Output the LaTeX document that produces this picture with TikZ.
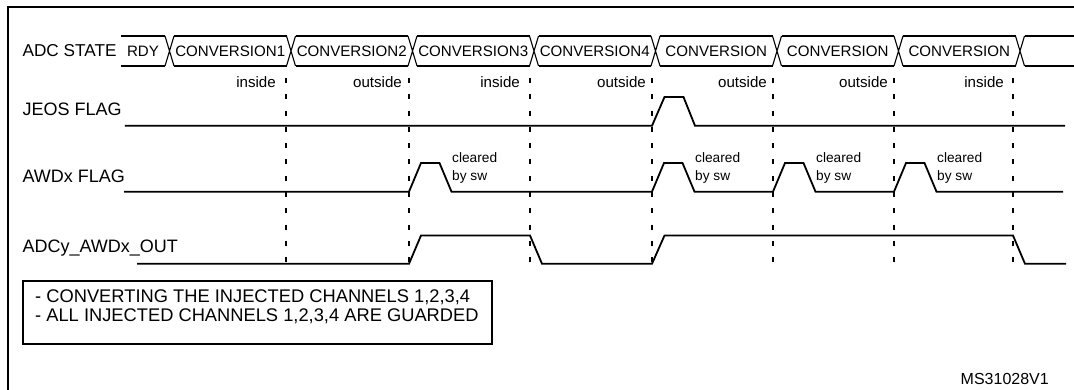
\documentclass[tikz,border=0pt]{standalone}
\usepackage{fontspec}
\setmainfont{Liberation Sans}
\begin{document}
\begin{tikzpicture}[x=1pt,y=-1pt,
    sig/.style={line width=1.8pt},
    bus/.style={line width=1.1pt},
    grid/.style={line width=2.4pt,dash pattern=on 5pt off 11.3pt},
    signame/.style={anchor=base west,inner sep=0,font=\fontsize{18}{20}\selectfont},
    state/.style={anchor=base,inner sep=0,font=\fontsize{15.1}{17}\selectfont},
    zone/.style={anchor=base east,inner sep=0,font=\fontsize{15.1}{17}\selectfont},
    swclear/.style={anchor=north west,inner sep=0,align=left,font=\fontsize{13.7}{18.6}\selectfont}]
    \useasboundingbox (0,0) rectangle (1074,390);
    % frame
    \draw[line width=2.2pt] (8.3,395) -- (8.3,7) -- (1080,7);
    % signal names
    \node[signame,font=\fontsize{17.2}{20}\selectfont] (adcstate) at (22.4,57) {ADC STATE};
    \node[signame] (jeos) at (22.4,116) {JEOS FLAG};
    \node[signame] (awd) at (22.4,183) {AWDx FLAG};
    \node[signame] (awdout) at (22.4,253) {ADCy\_AWDx\_OUT};
    % dashed grid with window results
    \foreach \x/\t/\d in {286/inside/10,409/outside/7,530/inside/10,652/outside/6,773/outside/6,894/outside/6,1013/inside/9}{
        \draw[grid] (\x,78) -- (\x,272);
        \node[zone] at (\x-\d,88) {\t};
    }
    % ADC state bus
    \draw[bus] (121,36) -- (165,36) (121,66) -- (165,66);
    \node[state] (rdy) at (143,57) {RDY};
    \foreach \i in {0,...,7}{
        \pgfmathsetmacro{\c}{169.5+121.5*\i}
        \draw[bus] (\c-4.5,36) -- (\c+4.5,66) (\c-4.5,66) -- (\c+4.5,36);
    }
    \foreach \i/\t in {1/CONVERSION1,2/CONVERSION2,3/CONVERSION3,4/CONVERSION4,5/CONVERSION,6/CONVERSION,7/CONVERSION}{
        \pgfmathsetmacro{\a}{169.5+121.5*(\i-1)+4.5}
        \pgfmathsetmacro{\b}{169.5+121.5*\i-4.5}
        \draw[bus] (\a,36) -- (\b,36) (\a,66) -- (\b,66);
        \node[state] (conv\i) at ({(\a+\b)/2},57) {\t};
    }
    \draw[bus] (1024.5,36) -- (1080,36) (1024.5,66) -- (1080,66);
    % JEOS flag
    \draw[sig] (124.8,125.8) -- (652,125.8) -- (664.5,97) -- (683.5,97) -- (695,125.8) -- (1065,125.8);
    % AWDx flag
    \draw[sig] (124,191.7) foreach \p in {409,652,773,894}{
        -- (\p,191.7) -- (\p+12,163) -- (\p+30.5,163) -- (\p+42.5,191.7)} -- (1063,191.7);
    \foreach \p in {409,652,773,894}
        \node[swclear] (clr\p) at (\p+43,152) {cleared\\by sw};
    % ADCy_AWDx_OUT
    \draw[sig] (137,263.8) -- (409,263.8) -- (421,235.5) -- (530,235.5) -- (542,263.8)
        -- (652,263.8) -- (664.5,235.5) -- (1013,235.5) -- (1025,263.8) -- (1066,263.8);
    % note
    \node[anchor=north west,inner sep=0,align=left,font=\fontsize{18.3}{19}\selectfont] (note) at (35,289.5)
        {- CONVERTING THE INJECTED CHANNELS 1,2,3,4\\- ALL INJECTED CHANNELS 1,2,3,4 ARE GUARDED};
    \draw[line width=2.2pt] (22.7,281) rectangle (491.7,344);
    \node[anchor=base east,inner sep=0,font=\fontsize{16}{18}\selectfont] (ref) at (1049,384) {MS31028V1};
\end{tikzpicture}
\end{document}
